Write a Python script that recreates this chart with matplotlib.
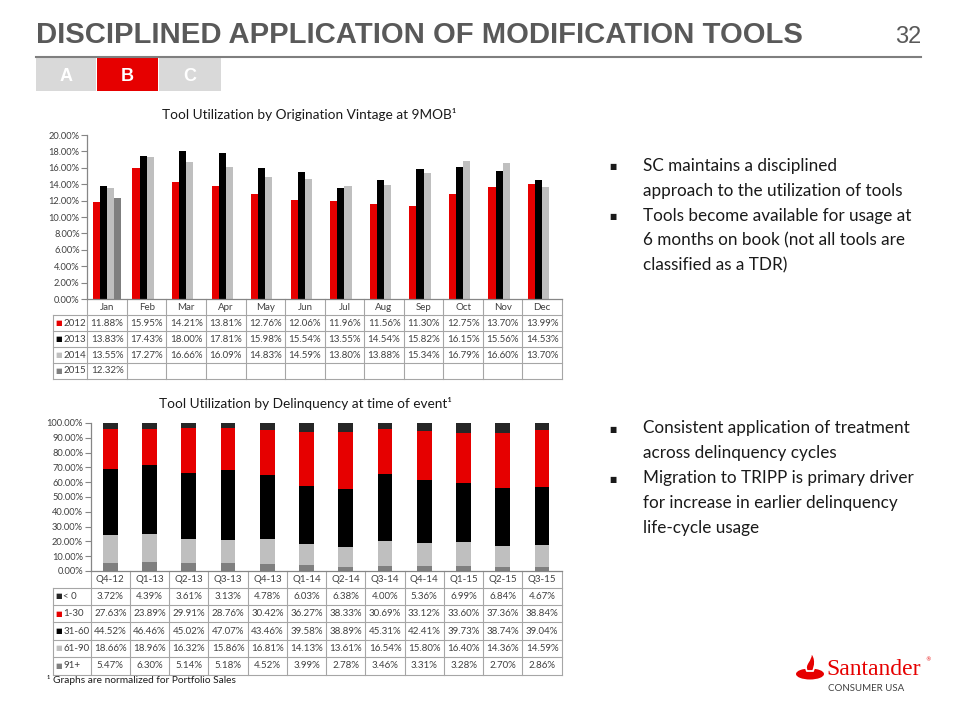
import matplotlib
matplotlib.use('Agg')
import matplotlib.pyplot as plt
import numpy as np
from matplotlib import transforms
from matplotlib.lines import Line2D
from matplotlib.patches import Rectangle, Ellipse, PathPatch
from matplotlib.path import Path
from matplotlib.ticker import FuncFormatter

# ---------------- data ----------------
months = ['Jan', 'Feb', 'Mar', 'Apr', 'May', 'Jun', 'Jul', 'Aug', 'Sep', 'Oct', 'Nov', 'Dec']
vintage_years = ['2012', '2013', '2014', '2015']
util_2012 = [11.88, 15.95, 14.21, 13.81, 12.76, 12.06, 11.96, 11.56, 11.30, 12.75, 13.70, 13.99]
util_2013 = [13.83, 17.43, 18.00, 17.81, 15.98, 15.54, 13.55, 14.54, 15.82, 16.15, 15.56, 14.53]
util_2014 = [13.55, 17.27, 16.66, 16.09, 14.83, 14.59, 13.80, 13.88, 15.34, 16.79, 16.60, 13.70]
util_2015 = [12.32, None, None, None, None, None, None, None, None, None, None, None]

quarters = ['Q4-12', 'Q1-13', 'Q2-13', 'Q3-13', 'Q4-13', 'Q1-14', 'Q2-14', 'Q3-14',
            'Q4-14', 'Q1-15', 'Q2-15', 'Q3-15']
delinq_buckets = ['< 0', '1-30', '31-60', '61-90', '91+']
dq_lt0 = [3.72, 4.39, 3.61, 3.13, 4.78, 6.03, 6.38, 4.00, 5.36, 6.99, 6.84, 4.67]
dq_1_30 = [27.63, 23.89, 29.91, 28.76, 30.42, 36.27, 38.33, 30.69, 33.12, 33.60, 37.36, 38.84]
dq_31_60 = [44.52, 46.46, 45.02, 47.07, 43.46, 39.58, 38.89, 45.31, 42.41, 39.73, 38.74, 39.04]
dq_61_90 = [18.66, 18.96, 16.32, 15.86, 16.81, 14.13, 13.61, 16.54, 15.80, 16.40, 14.36, 14.59]
dq_91p = [5.47, 6.30, 5.14, 5.18, 4.52, 3.99, 2.78, 3.46, 3.31, 3.28, 2.70, 2.86]

title_text = 'DISCIPLINED APPLICATION OF MODIFICATION TOOLS'
page_number = '32'
tab_labels = ['A', 'B', 'C']
chart1_title = 'Tool Utilization by Origination Vintage at 9MOB\u00b9'
chart2_title = 'Tool Utilization by Delinquency at time of event\u00b9'
bullets_top = [('\u25aa', 'SC maintains a disciplined'), ('', 'approach to the utilization of tools'),
               ('\u25aa', 'Tools become available for usage at'), ('', '6 months on book (not all tools are'),
               ('', 'classified as a TDR)')]
bullets_bottom = [('\u25aa', 'Consistent application of treatment'), ('', 'across delinquency cycles'),
                  ('\u25aa', 'Migration to TRIPP is primary driver'), ('', 'for increase in earlier delinquency'),
                  ('', 'life-cycle usage')]
footnote = '\u00b9 Graphs are normalized for Portfolio Sales'

# ---------------- style ----------------
W, H = 960, 720
RED = '#E60000'
GRID = '#A6A6A6'
AXC = '#868686'
TXT = '#404040'
BODY = ['Lato', 'DejaVu Sans']
NARROW = ['Liberation Sans Narrow', 'Liberation Sans', 'DejaVu Sans']
plt.rcParams['font.family'] = BODY

fig = plt.figure(figsize=(9.6, 7.2), dpi=100)
fig.patch.set_facecolor('white')


def fx(p):
    return p / W


def fy(p):
    return 1 - p / H


# ---------------- header ----------------
fig.text(fx(36), fy(43), title_text, family=NARROW, weight='bold', size=21.1,
         color='#595959', ha='left', va='baseline')
fig.text(fx(921), fy(43), page_number, family=NARROW, size=17, color='#595959',
         ha='right', va='baseline')
fig.add_artist(Line2D([fx(36), fx(921)], [fy(57), fy(57)], color='#7F7F7F', lw=1.5))
tab_px = [(36, 96), (97, 158), (159, 221)]
tab_cols = ['#D9D9D9', RED, '#D9D9D9']
for lab, (x0, x1), c in zip(tab_labels, tab_px, tab_cols):
    fig.add_artist(Rectangle((fx(x0), fy(91)), (x1 - x0) / W, 33 / H, facecolor=c,
                             edgecolor='none', transform=fig.transFigure))
    fig.text(fx((x0 + x1) / 2), fy(81), lab, family=NARROW, weight='bold', size=13,
             color='white', ha='center', va='baseline')


def pct_fmt(v, p):
    return f'{v:.2f}%'


def style_axes(ax):
    for s in ['top', 'right']:
        ax.spines[s].set_visible(False)
    for s in ['left', 'bottom']:
        ax.spines[s].set_color(AXC)
        ax.spines[s].set_linewidth(0.9)
    ax.set_xticks([])
    ax.tick_params(axis='y', length=4, width=0.8, color=AXC, labelsize=6.7,
                   labelcolor=TXT, pad=1.5)
    ax.yaxis.set_major_formatter(FuncFormatter(pct_fmt))
    ax.set_facecolor('none')


def draw_table(ax, cols, row_labels, row_colors, cell_rows, y_top, header_h, row_h, left_px):
    tr = transforms.blended_transform_factory(ax.transData, fig.transFigure)
    n = len(cols)
    nrows = len(row_labels)
    y_hdr = y_top + header_h
    y_bot = y_hdr + nrows * row_h
    right = ax.get_position().x1
    lw = 0.8
    for b in np.arange(-0.5, n, 1.0):
        ax.add_line(Line2D([b, b], [fy(y_top), fy(y_bot)], transform=tr, color=GRID,
                           lw=lw, clip_on=False))
    fig.add_artist(Line2D([fx(left_px), fx(left_px)], [fy(y_hdr), fy(y_bot)], color=GRID, lw=lw))
    for i in range(nrows + 1):
        yy = y_hdr + i * row_h
        fig.add_artist(Line2D([fx(left_px), right], [fy(yy), fy(yy)], color=GRID, lw=lw))
    for i, c in enumerate(cols):
        ax.text(i, fy(y_top + header_h / 2), c, transform=tr, ha='center', va='center',
                size=7, color=TXT)
    for r, (lab, col, vals) in enumerate(zip(row_labels, row_colors, cell_rows)):
        yc = fy(y_hdr + (r + 0.5) * row_h)
        fig.text(fx(left_px + 2.5), yc, '\u25a0', family=['DejaVu Sans'], size=5, color=col,
                 ha='left', va='center')
        fig.text(fx(left_px + 10), yc, lab, size=7, color=TXT, ha='left', va='center')
        for i, v in enumerate(vals):
            if v is None:
                continue
            ax.text(i, yc, f'{v:.2f}%', transform=tr, ha='center', va='center',
                    size=7, color=TXT)


# ---------------- top chart ----------------
ax1 = fig.add_axes([fx(87.3), fy(299), (562 - 87.3) / W, (299 - 135) / H])
x = np.arange(len(months))
top_series = [util_2012, util_2013, util_2014, util_2015]
top_colors = [RED, '#000000', '#BFBFBF', '#7F7F7F']
bw = 0.18
for k, (vals, col) in enumerate(zip(top_series, top_colors)):
    v = np.array([np.nan if a is None else a for a in vals], dtype=float)
    ax1.bar(x + (k - 1.5) * bw, v, width=bw, color=col, linewidth=0)
ax1.set_xlim(-0.5, len(months) - 0.5)
ax1.set_ylim(0, 20)
ax1.set_yticks(np.arange(0, 20.01, 2))
style_axes(ax1)
fig.text(fx(309), fy(119), chart1_title, ha='center', va='baseline', size=9.8, color='#1A1A1A')
draw_table(ax1, months, vintage_years, top_colors, top_series, 299, 16, 16, 53)

# ---------------- bottom chart ----------------
ax2 = fig.add_axes([fx(90.7), fy(571), (561.7 - 90.7) / W, (571 - 423) / H])
xq = np.arange(len(quarters))
stack = [dq_91p, dq_61_90, dq_31_60, dq_1_30, dq_lt0]
stack_colors = ['#7F7F7F', '#BFBFBF', '#000000', RED, '#262626']
bottom = np.zeros(len(quarters))
for vals, col in zip(stack, stack_colors):
    v = np.array(vals, dtype=float)
    ax2.bar(xq, v, width=0.375, bottom=bottom, color=col, linewidth=0)
    bottom += v
ax2.set_xlim(-0.5, len(quarters) - 0.5)
ax2.set_ylim(0, 100)
ax2.set_yticks(np.arange(0, 100.01, 10))
style_axes(ax2)
fig.text(fx(305), fy(408), chart2_title, ha='center', va='baseline', size=9.8, color='#1A1A1A')
table_rows = [dq_lt0, dq_1_30, dq_31_60, dq_61_90, dq_91p]
table_cols = ['#262626', RED, '#000000', '#BFBFBF', '#7F7F7F']
draw_table(ax2, quarters, delinq_buckets, table_cols, table_rows, 571, 16.5, 17.4, 53.3)

fig.text(fx(47), fy(683), footnote, size=7.3, color='#1A1A1A', ha='left', va='baseline')


# ---------------- bullets ----------------
def bullets(items, base_y):
    for i, (mk, txt) in enumerate(items):
        yb = base_y + i * 25
        if mk:
            fig.text(fx(609), fy(yb - 4), '\u25a0', family=['DejaVu Sans'], size=5.5,
                     color='#1A1A1A', ha='left', va='center')
        fig.text(fx(643), fy(yb), txt, size=12.3, color='#1A1A1A', ha='left', va='baseline')


bullets(bullets_top, 170.7)
bullets(bullets_bottom, 433.3)

# ---------------- logo ----------------
axl = fig.add_axes([fx(795), fy(681), 30 / W, 30 / H])
axl.set_xlim(0, 30)
axl.set_ylim(0, 30)
axl.axis('off')
axl.add_patch(Ellipse((15, 7), 28, 11, facecolor=RED, edgecolor='none'))
flame = Path([(12, 10), (8, 17), (17, 20), (16, 29), (22, 22), (20, 15), (18, 10), (12, 10)],
             [Path.MOVETO, Path.CURVE4, Path.CURVE4, Path.CURVE4, Path.CURVE4, Path.CURVE4,
              Path.CURVE4, Path.CLOSEPOLY])
axl.add_patch(PathPatch(flame, facecolor=RED, edgecolor='white', lw=1.3))
fig.text(fx(826), fy(675), 'Santander', family=['Liberation Serif', 'DejaVu Serif'], size=17,
         color=RED, ha='left', va='baseline')
fig.text(fx(925), fy(661), '\u00ae', family=['DejaVu Sans'], size=4, color=RED, ha='left',
         va='baseline')
fig.text(fx(828), fy(691), 'CONSUMER USA', size=7, color='#404040', ha='left', va='baseline')

fig.savefig('out.png', dpi=100, facecolor='white')
